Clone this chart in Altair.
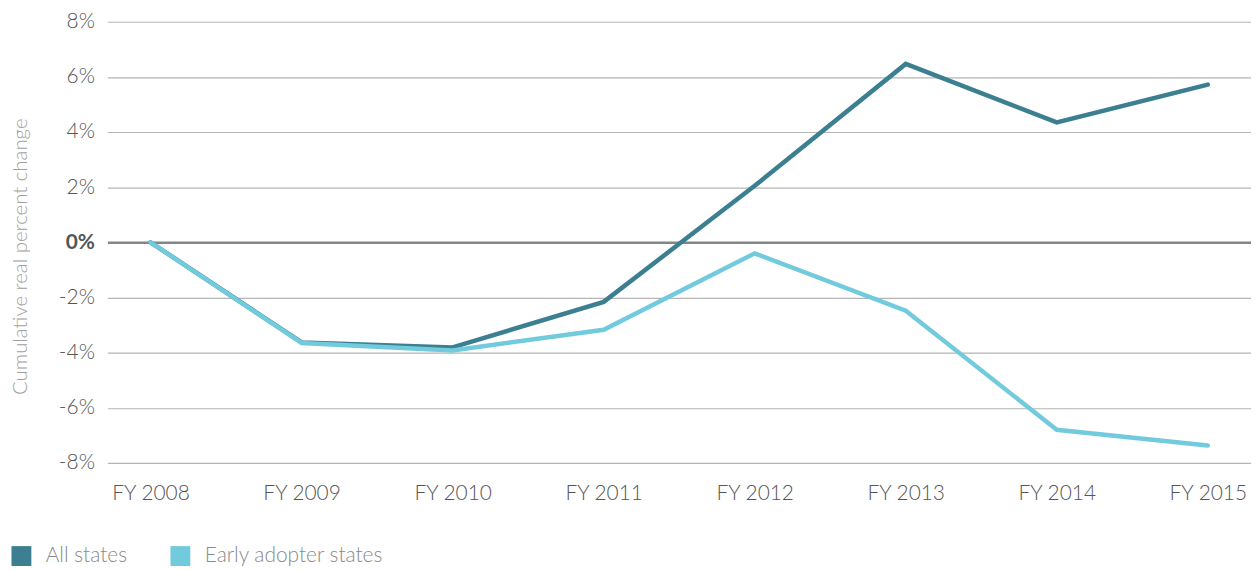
import altair as alt
import pandas as pd

years = ["FY 2008", "FY 2009", "FY 2010", "FY 2011", "FY 2012", "FY 2013", "FY 2014", "FY 2015"]
all_states = [0.0, -3.63, -3.81, -2.16, 2.05, 6.47, 4.35, 5.72]
early_adopters = [0.0, -3.65, -3.92, -3.17, -0.40, -2.48, -6.80, -7.37]
series_names = ["All states", "Early adopter states"]
colors = ["#3b7f91", "#72cbdd"]

rows = []
for y, v in zip(years, all_states):
    rows.append({"year": y, "value": v, "series": series_names[0]})
for y, v in zip(years, early_adopters):
    rows.append({"year": y, "value": v, "series": series_names[1]})
df = pd.DataFrame(rows)

FONT = "Lato"

chart = alt.Chart(df).mark_line(strokeWidth=4.5, strokeCap="round", strokeJoin="miter").encode(
    x=alt.X("year:N", sort=years, scale=alt.Scale(type="point", padding=0.286),
            axis=alt.Axis(title=None, labelAngle=0, domain=False, ticks=False, grid=False,
                          labelPadding=20, labelFontSize=21, labelColor="#555555", labelFont=FONT,
                          labelFontWeight=300)),
    y=alt.Y("value:Q", scale=alt.Scale(domain=[-8, 8], nice=False),
            axis=alt.Axis(title="Cumulative real percent change", values=[-8, -6, -4, -2, 0, 2, 4, 6, 8],
                          labelExpr="datum.value + '%'", domain=False, ticks=False,
                          labelPadding=13, labelFontSize=21, labelColor="#555555", labelFont=FONT,
                          labelFontWeight=alt.condition("datum.value == 0", alt.value("bold"), alt.value(300)),
                          gridColor=alt.condition("datum.value == 0", alt.value("#858585"), alt.value("#b5b5b5")),
                          gridWidth=alt.condition("datum.value == 0", alt.value(2.5), alt.value(1.2)),
                          titleFontSize=20.5, titleColor="#a0a0a0", titleFont=FONT, titleFontWeight=300,
                          titlePadding=28, titleY=236)),
    color=alt.Color("series:N", sort=series_names,
                    scale=alt.Scale(domain=series_names, range=colors),
                    legend=alt.Legend(title=None, orient="none", legendX=-97, legendY=527,
                                      direction="horizontal", symbolType="square", symbolSize=100,
                                      symbolStrokeWidth=10, symbolOpacity=1,
                                      labelFontSize=21, labelColor="#8a8a8a", labelFont=FONT,
                                      labelFontWeight=300, labelLimit=400,
                                      labelOffset=14, columnPadding=28)),
    order=alt.Order("series:N"),
).properties(
    width=1151, height=444,
    autosize=alt.AutoSizeParams(type="none"),
    padding={"left": 100, "top": 12, "right": 0, "bottom": 112},
).configure_view(stroke=None)

chart.save("out.html", embed_options={"renderer": "svg", "actions": False})
